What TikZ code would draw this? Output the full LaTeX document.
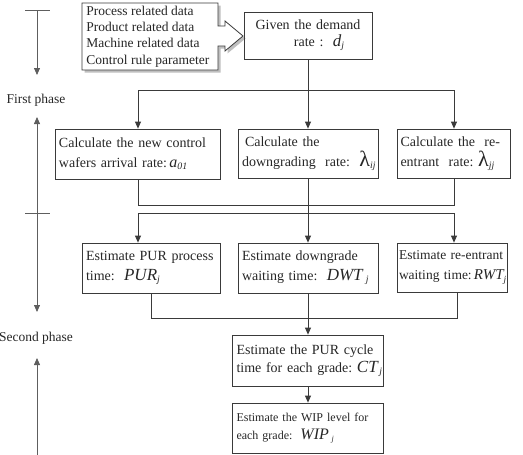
\documentclass[tikz,border=0pt]{standalone}
\usepackage{fontspec}
\setmainfont{Liberation Serif}
\usepackage{xcolor}
\usetikzlibrary{positioning,arrows.meta,calc}

\definecolor{linegray}{HTML}{3A3A3A}
\definecolor{axisgray}{HTML}{5E5E5E}
\definecolor{textgray}{HTML}{262626}

% italic symbol with subscript, and the upright lambda
\newcommand{\varsub}[3][17]{{\fontsize{#1}{#1}\selectfont\itshape #2}\textsubscript{\itshape #3}}
\newcommand{\lamsub}[1]{{\fontsize{22}{22}\selectfont λ}\textsubscript{\itshape #1}}
% two unbroken lines
\newcommand{\twolines}[2]{\mbox{#1}\\\mbox{#2}}

\tikzset{
  box/.style={draw=linegray, line width=0.8pt, text width=#1, align=left,
    inner xsep=4pt, inner ysep=2pt, minimum height=50pt, text=textgray,
    font=\fontsize{14}{20}\selectfont},
  arr/.style={-{Triangle[length=7pt,width=6pt]}},
  phase/.style={text=textgray, font=\fontsize{13.5}{16}\selectfont, inner sep=0pt}
}

\begin{document}
\begin{tikzpicture}[x=1pt,y=-1pt,line width=0.8pt,draw=linegray]
\useasboundingbox (0,0) rectangle (523,455);

% Input data
\fill[black!25, xshift=2.5pt, yshift=-2.5pt] (82,3) -- (218,3) -- (218,26) -- (225,26) -- (225,21) -- (243,36)
  -- (225,51) -- (225,46) -- (218,46) -- (218,70) -- (82,70) -- cycle;
\draw[fill=white] (82,3) -- (218,3) -- (218,26) -- (225,26) -- (225,21) -- (243,36)
  -- (225,51) -- (225,46) -- (218,46) -- (218,70) -- (82,70) -- cycle;
\node[anchor=west, align=left, text=textgray, font=\fontsize{13.5}{16.3}\selectfont, inner sep=0pt] (data) at (86,36.5)
  {Process related data\\Product related data\\Machine related data\\Control rule parameter};

% First phase
\node[box=120, align=center, minimum height=47pt, font=\fontsize{14}{17}\selectfont] (given) at (308,35.5)
  {Given the demand\\\hspace{1.6em}rate :\ \ \varsub{d}{j}};
\node[box=157] (newctl) at (137.5,154)
  {\twolines{Calculate the new control}{wafers arrival rate:\,\varsub[16]{a}{01}}};
\node[box=132, minimum height=49pt] (downrate) at (308,153.5)
  {\twolines{\hspace{3pt}Calculate the}{downgrading\ \ rate:\ \ \lamsub{ij}}};
\node[box=106, inner xsep=3.5pt, minimum height=49pt] (rerate) at (453.5,153.5)
  {\twolines{Calculate the\ \ re-}{entrant\ \ rate:\ \lamsub{jj}}};

% Second phase
\node[box=130] (purtime) at (151,268)
  {\twolines{Estimate PUR process}{time:\ \ \varsub{PUR}{j}}};
\node[box=132] (dwt) at (308,268)
  {\twolines{Estimate downgrade}{waiting time:\ \ \varsub{DWT}{\,\,j}}};
\node[box=106, inner xsep=2pt, minimum height=49pt, font=\fontsize{13.5}{20}\selectfont] (rwt) at (452,267.5)
  {\twolines{Estimate re-entrant}{waiting time:\,\varsub[15]{RWT}{j}}};
\node[box=143, minimum height=51pt, font=\fontsize{14}{18}\selectfont] (cycle) at (308,360.5)
  {\twolines{Estimate the PUR cycle}{time for each grade:\ \varsub{CT}{\,j}}};
\node[box=143, font=\fontsize{12}{18}\selectfont] (wip) at (308,428)
  {\twolines{Estimate the WIP level for}{each grade:\ \ \varsub[16]{WIP}{\,\,j}}};

% Split after the demand rate
\coordinate (t1l) at (138,90);
\coordinate (t1r) at (454,90);
\draw (t1l) -- (t1r);
\draw[arr] (given) -- (downrate);
\draw[arr] (t1l) -- (t1l |- newctl.north);
\draw[arr] (t1r) -- (t1r |- rerate.north);

% Merge and split between the rows
\coordinate (m1l) at (138,205);
\coordinate (m1r) at (454,205);
\draw (newctl.south -| m1l) -- (m1l) -- (m1r) -- (rerate.south -| m1r);
\coordinate (t2l) at (138,213);
\coordinate (t2r) at (454,213);
\draw (t2l) -- (t2r);
\draw[arr] (downrate) -- (dwt);
\draw[arr] (t2l) -- (t2l |- purtime.north);
\draw[arr] (t2r) -- (t2r |- rwt.north);

% Merge into the cycle time
\coordinate (m2l) at (151,318);
\coordinate (m2r) at (457,318);
\draw (purtime) -- (m2l) -- (m2r) -- (rwt.south -| m2r);
\draw[arr] (dwt) -- (cycle);
\draw[arr] (cycle) -- (wip);

% Phase axis
\node[phase] (first) at (36,100) {First phase};
\node[phase] (second) at (36,338) {Second phase};
\coordinate (a0) at (37,10);
\coordinate (a1) at (37,75);
\coordinate (a2) at (37,117);
\coordinate (a3) at (37,213);
\coordinate (a4) at (37,312);
\coordinate (a5) at (37,358);
\coordinate (a6) at (37,455);
\draw[axisgray] (25,10) -- (50,10);
\draw[axisgray] (25,213) -- (50,213);
\draw[axisgray, arr] (a0) -- (a1);
\draw[axisgray, arr] (a3) -- (a2);
\draw[axisgray, arr] (a3) -- (a4);
\draw[axisgray, arr] (a6) -- (a5);
\end{tikzpicture}
\end{document}
